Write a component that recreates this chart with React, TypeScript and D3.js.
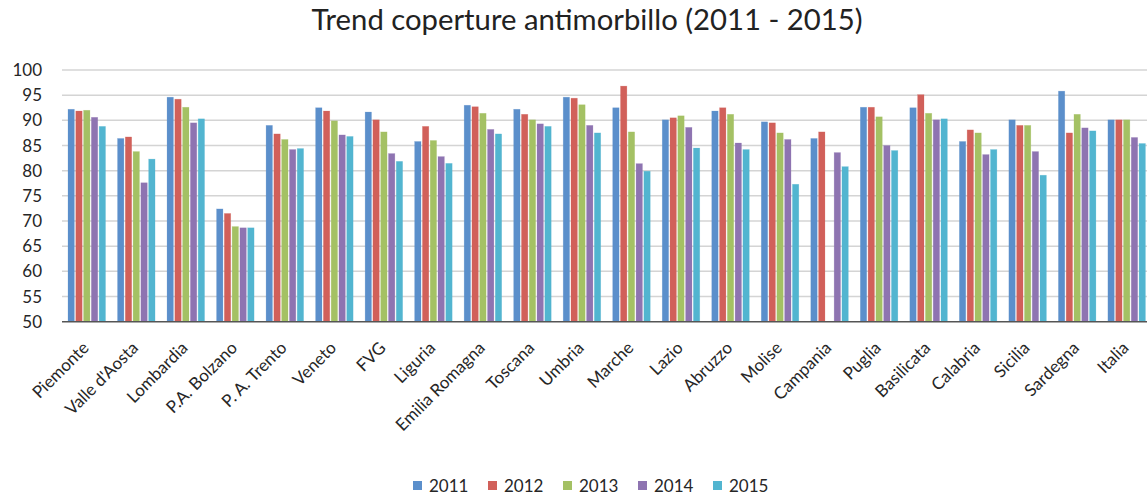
import React from "react";
import * as d3 from "d3";

const categories = [
  "Piemonte", "Valle d'Aosta", "Lombardia", "P.A. Bolzano", "P. A. Trento", "Veneto", "FVG", "Liguria",
  "Emilia Romagna", "Toscana", "Umbria", "Marche", "Lazio", "Abruzzo", "Molise", "Campania",
  "Puglia", "Basilicata", "Calabria", "Sicilia", "Sardegna", "Italia",
];
const years = ["2011", "2012", "2013", "2014", "2015"];
const v2011 = [92.2, 86.4, 94.6, 72.4, 89.0, 92.5, 91.65, 85.8, 93.0, 92.2, 94.6, 92.5, 90.1, 91.85, 89.7, 86.4, 92.6, 92.5, 85.8, 90.1, 95.8, 90.1];
const v2012 = [91.85, 86.7, 94.2, 71.5, 87.3, 91.85, 90.1, 88.8, 92.7, 91.2, 94.4, 96.8, 90.5, 92.5, 89.5, 87.7, 92.6, 95.1, 88.1, 89.0, 87.5, 90.1];
const v2013 = [92.0, 83.8, 92.6, 68.9, 86.2, 89.9, 87.7, 86.0, 91.4, 90.1, 93.1, 87.7, 90.9, 91.2, 87.5, null, 90.7, 91.4, 87.5, 89.0, 91.2, 90.1];
const v2014 = [90.6, 77.6, 89.5, 68.65, 84.2, 87.1, 83.4, 82.8, 88.2, 89.3, 89.0, 81.4, 88.6, 85.5, 86.2, 83.6, 85.0, 90.1, 83.2, 83.8, 88.5, 86.6];
const v2015 = [88.8, 82.3, 90.3, 68.65, 84.4, 86.8, 81.85, 81.45, 87.3, 88.8, 87.5, 79.9, 84.5, 84.2, 77.3, 80.8, 84.0, 90.3, 84.2, 79.1, 87.9, 85.4];
const yTicks = [50, 55, 60, 65, 70, 75, 80, 85, 90, 95, 100];
const colors = ["#5B8FCB", "#D1605A", "#A4C164", "#8E74B1", "#52B5D0"];
const title = "Trend coperture antimorbillo (2011 - 2015)";

const series = [v2011, v2012, v2013, v2014, v2015];

const W = 1147;
const H = 497;
const left = 62;
const step = 49.52;
const font = "Lato, 'Open Sans', sans-serif";

export default function App() {
  const x0 = d3.scaleBand<string>().domain(categories).range([left, left + step * categories.length]).padding(0);
  const x1 = d3.scaleBand<string>().domain(years).range([6, step - 6]).paddingInner(0.18).paddingOuter(0);
  const y = d3.scaleLinear().domain([50, 100]).range([321.7, 70]);
  const plotRight = left + step * categories.length;

  return (
    <svg width={W} height={H} style={{ position: "absolute", left: 0, top: 0, background: "#fff" }}>
      <text x={587} y={30} textAnchor="middle" fontFamily={font} fontSize={28} fill="#222"
        textLength={551} lengthAdjust="spacingAndGlyphs">{title}</text>
      {yTicks.map((t) => (
        <g key={t}>
          {t > 50 && (
            <line x1={left} x2={plotRight} y1={y(t)} y2={y(t)} stroke="#D4D4D4" strokeWidth={1.5} />
          )}
          <text x={42} y={y(t)} dy="0.36em" textAnchor="end" fontFamily={font} fontSize={17} fill="#262626">{t}</text>
        </g>
      ))}
      {categories.map((c, i) => (
        <g key={c} transform={`translate(${x0(c)},0)`}>
          {years.map((yr, j) => {
            const v = series[j][i];
            if (v == null) return null;
            return (
              <rect key={yr} x={x1(yr)} y={y(v)} width={x1.bandwidth()} height={y(50) - y(v)}
                fill={colors[j]} stroke={colors[j]} strokeOpacity={0.35} strokeWidth={0.6} />
            );
          })}
        </g>
      ))}
      <line x1={left} x2={plotRight} y1={y(50)} y2={y(50)} stroke="#555" strokeWidth={1.5} />
      {categories.map((c) => {
        const cx = (x0(c) as number) + step / 2;
        return (
          <text key={c} transform={`translate(${cx + 3},${349}) rotate(-45)`} textAnchor="end"
            fontFamily={font} fontSize={17} fill="#262626">{c}</text>
        );
      })}
      {years.map((yr, j) => (
        <g key={yr} transform={`translate(${413 + j * 75},0)`}>
          <rect x={0} y={481} width={9} height={9} fill={colors[j]} />
          <text x={16} y={492} fontFamily={font} fontSize={17} fill="#262626">{yr}</text>
        </g>
      ))}
    </svg>
  );
}
